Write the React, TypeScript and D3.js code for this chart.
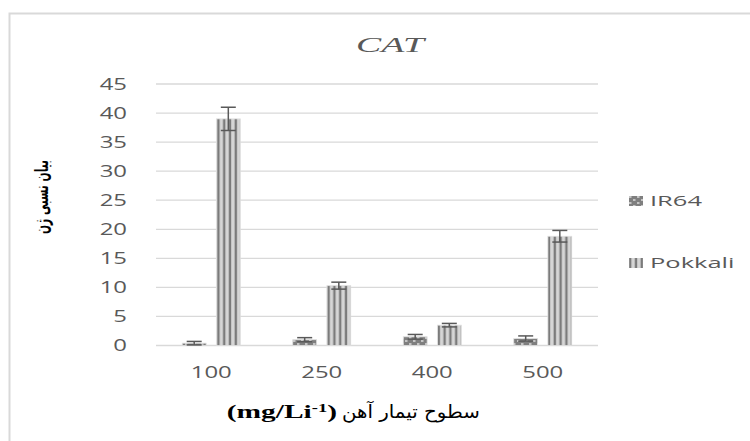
import React from "react";
import * as d3 from "d3";

const categories = ["100", "250", "400", "500"];
const seriesNames = ["IR64", "Pokkali"];
const ir64Values = [0.4, 1.0, 1.5, 1.2];
const ir64Errors = [0.3, 0.35, 0.4, 0.45];
const pokkaliValues = [39.0, 10.3, 3.5, 18.8];
const pokkaliErrors = [2.0, 0.6, 0.3, 1.0];
const yTicks = [0, 5, 10, 15, 20, 25, 30, 35, 40, 45];

const W = 750;
const H = 441;
const plotLeft = 156;
const plotRight = 598;
const plotTop = 84;
const plotBottom = 345.5;

export default function App() {
  const x = d3.scaleBand<string>().domain(categories).range([plotLeft, plotRight]).padding(0);
  const groupW = 58;
  const xi = d3
    .scaleBand<string>()
    .domain(seriesNames)
    .range([-groupW / 2, groupW / 2])
    .paddingInner(0.3);
  const y = d3.scaleLinear().domain([0, 45]).range([plotBottom, plotTop]);

  const series = [
    { name: "IR64", values: ir64Values, errors: ir64Errors, fill: "url(#pIR64)" },
    { name: "Pokkali", values: pokkaliValues, errors: pokkaliErrors, fill: "url(#pPok)" },
  ];

  const gridColor = "#d9d9d9";
  const textColor = "#595959";
  const sans = "'Open Sans', 'Noto Sans', sans-serif";
  const serif = "'Liberation Serif', 'Times New Roman', serif";

  return (
    <svg width={W} height={H} style={{ position: "absolute", left: 0, top: 0, background: "#fff" }}>
      <defs>
        <pattern id="pPok" patternUnits="userSpaceOnUse" width={5.8} height={10}>
          <rect x={0} y={0} width={5.8} height={10} fill="#d6d6d6" />
          <rect x={2.6} y={0} width={2.4} height={10} fill="#7b7b7b" />
        </pattern>
        <pattern id="pIR64" patternUnits="userSpaceOnUse" width={8} height={6}>
          <rect x={0} y={0} width={8} height={6} fill="#7f7f7f" />
          <rect x={1} y={1} width={2.5} height={2} fill="#c4c4c4" />
          <rect x={5} y={4} width={2.5} height={2} fill="#c4c4c4" />
        </pattern>
      </defs>
      <rect x={9.5} y={13.5} width={W + 20} height={H + 20} fill="#fff" stroke="#d9d9d9" strokeWidth={2} />

      <text
        transform="translate(390,52) scale(1.8,1)"
        textAnchor="middle"
        fontFamily={serif}
        fontStyle="italic"
        fontSize={21}
        fill={textColor}
      >
        CAT
      </text>

      {yTicks.map((t) => (
        <g key={t}>
          <line x1={plotLeft} x2={plotRight} y1={y(t)} y2={y(t)} stroke={gridColor} strokeWidth={1.3} />
          <text
            transform={`translate(127,${y(t)}) scale(1.45,1)`}
            dy="0.35em"
            textAnchor="end"
            fontFamily={sans}
            fontSize={16.5}
            fill={textColor}
          >
            {t}
          </text>
        </g>
      ))}

      {series.map((s) =>
        categories.map((c, i) => {
          const bx = (x(c) as number) + x.bandwidth() / 2 + (xi(s.name) as number);
          const bw = xi.bandwidth();
          const top = y(s.values[i]);
          const cx = bx + bw / 2;
          const eHi = y(s.values[i] + s.errors[i]);
          const eLo = y(Math.max(0, s.values[i] - s.errors[i]));
          return (
            <g key={s.name + c}>
              <rect x={bx} y={top} width={bw} height={plotBottom - top} fill={s.fill} stroke="#e0e0e0" strokeWidth={0.8} />
              <line x1={cx} x2={cx} y1={eHi} y2={eLo} stroke={textColor} strokeWidth={1.5} />
              <line x1={cx - 7.5} x2={cx + 7.5} y1={eHi} y2={eHi} stroke={textColor} strokeWidth={1.5} />
              <line x1={cx - 7.5} x2={cx + 7.5} y1={eLo} y2={eLo} stroke={textColor} strokeWidth={1.5} />
            </g>
          );
        })
      )}

      {categories.map((c) => (
        <text
          key={c}
          transform={`translate(${(x(c) as number) + x.bandwidth() / 2},372) scale(1.45,1)`}
          dy="0.35em"
          textAnchor="middle"
          fontFamily={sans}
          fontSize={16.5}
          fill={textColor}
        >
          {c}
        </text>
      ))}

      {/* Legend */}
      {series.map((s, i) => {
        const cy = i === 0 ? 201 : 263;
        return (
          <g key={s.name}>
            <rect x={629} y={cy - 5} width={14} height={10} fill={s.fill} />
            <text
              transform={`translate(650,${cy}) scale(1.7,1)`}
              dy="0.35em"
              fontFamily={sans}
              fontSize={15}
              fill={textColor}
            >
              {s.name}
            </text>
          </g>
        );
      })}

      {/* Y axis title */}
      <text
        transform="translate(41,197) scale(1.35,1) rotate(-90)"
        textAnchor="middle"
        dy="0.35em"
        fontFamily="'DejaVu Sans', sans-serif"
        fontSize={14}
        fontWeight="bold"
        textLength={74}
        lengthAdjust="spacingAndGlyphs"
        fill="#000"
        direction="rtl"
      >
        بیان نسبی ژن
      </text>

      {/* X axis title */}
      <text
        transform="translate(337,418) scale(1.55,1)"
        textAnchor="end"
        fontFamily={serif}
        fontWeight="bold"
        fontSize={19}
        fill="#000"
      >
        (mg/Li<tspan baselineShift="super" fontSize={12}>-1</tspan>)
      </text>
      <text
        transform="translate(342,418) scale(1.1,1)"
        textAnchor="start"
        fontFamily="'DejaVu Sans', sans-serif"
        fontSize={18}
        fill="#000"
      >
        سطوح تیمار آهن
      </text>
    </svg>
  );
}
